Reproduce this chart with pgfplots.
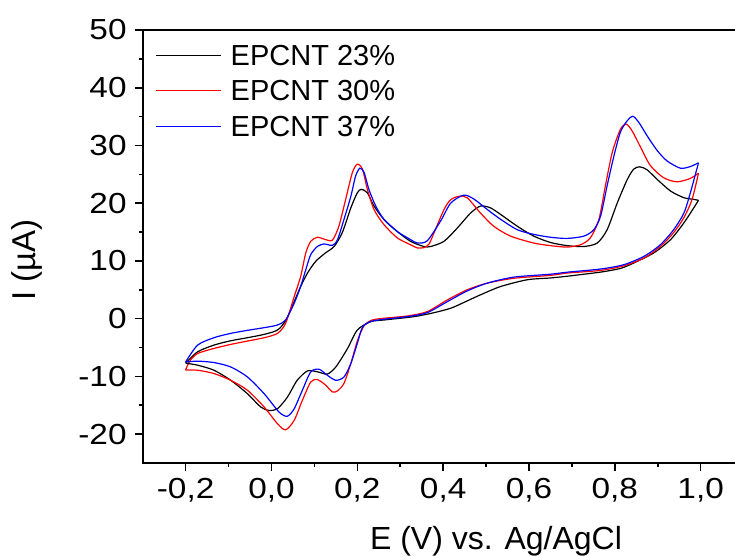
\documentclass[border=0pt]{standalone}
\usepackage{pgfplots}
\pgfplotsset{compat=1.18}
\usepackage{fontspec}
\setmainfont{Liberation Sans}
\begin{document}
\begin{tikzpicture}
\useasboundingbox (0,0) rectangle (367.5pt,-278pt);
\begin{axis}[
  at={(71.35pt,-15pt)}, anchor=north west,
  scale only axis, width=296.15pt, height=216.5pt,
  xmin=-0.3, xmax=1.08, ymin=-25, ymax=50,
  xtick={-0.2,0,0.2,0.4,0.6,0.8,1.0},
  xticklabels={{-0,2},{0,0},{0,2},{0,4},{0,6},{0,8},{1,0}},
  ytick={-20,-10,0,10,20,30,40,50},
  yticklabels={-20,-10,0,10,20,30,40,50},
  minor x tick num=1, minor y tick num=1,
  tick align=outside,
  xtick pos=bottom, ytick pos=left,
  major tick length=4pt, minor tick length=2pt,
  every tick/.style={black, line width=0.8pt},
  axis line style={draw=none},
  ticklabel style={font=\fontsize{14.5}{14.5}\selectfont, xscale=1.15, transform shape},
  xlabel={E (V) vs. Ag/AgCl},
  ylabel={I (µA)},
  x label style={at={([yshift=-43pt]rel axis cs:0.5965,0)}, anchor=base, font=\fontsize{16}{16}\selectfont},
  y label style={at={([xshift=-53.5pt]rel axis cs:0,0.469)}, anchor=base, rotate=0, font=\fontsize{16.5}{16.5}\selectfont},
  legend style={at={(rel axis cs:0,1)}, anchor=north west, xshift=6.15pt, yshift=-5.3pt,
    draw=none, fill=none, inner sep=0pt, row sep=3.55pt, column sep=2.5pt,
    font=\fontsize{14.5}{14.5}\selectfont,
    nodes={inner sep=2pt, text height=10.2pt, text depth=0pt}},
  legend cell align=left,
  legend image code/.code={\draw[#1, line width=0.65pt] (0pt,0pt) -- (32.5pt,0pt);},
  every axis plot/.append style={line width=0.6pt, smooth, tension=0.45, mark=none},
  clip=false,
]
\draw[line width=1pt, line cap=rect] (rel axis cs:1.05,1) -- (rel axis cs:0,1) -- (rel axis cs:0,0) -- (rel axis cs:1.05,0);
% EPCNT 23% forward
\addplot[black] coordinates {(-0.200,-7.7) (-0.172,-5.74) (-0.134,-4.58) (-0.095,-3.83) (-0.056,-3.3) (-0.017,-2.72) (0.014,-1.97) (0.033,-0.35) (0.053,2.96) (0.068,5.57) (0.084,7.9) (0.103,9.92) (0.126,11.4) (0.146,12.5) (0.165,14.9) (0.185,19.2) (0.200,21.8) (0.2095,22.4) (0.2235,21.8) (0.239,19.5) (0.262,17.2) (0.293,15.1) (0.324,13.4) (0.355,12.5) (0.371,12.5) (0.402,13.4) (0.433,15.7) (0.464,18.3) (0.487,19.5) (0.510,19.2) (0.534,18.05) (0.573,16.0) (0.611,14.3) (0.650,13.2) (0.689,12.65) (0.728,12.5) (0.759,13.1) (0.782,15.4) (0.806,20.1) (0.829,24.1) (0.844,25.9) (0.858,26.3) (0.875,25.8) (0.899,24.1) (0.930,22.1) (0.961,20.95) (0.984,20.66) (0.995,20.5)};
\addlegendentry{EPCNT 23\%}
% EPCNT 30% forward
\addplot[red] coordinates {(-0.200,-8.9) (-0.190,-7.3) (-0.172,-6.03) (-0.134,-5.16) (-0.095,-4.46) (-0.056,-3.88) (-0.017,-3.3) (0.014,-2.55) (0.033,-0.8) (0.053,3.83) (0.068,7.3) (0.080,11.4) (0.0915,13.4) (0.107,14.1) (0.126,13.7) (0.142,13.6) (0.157,16.0) (0.173,20.7) (0.1885,25.3) (0.200,26.75) (0.212,25.9) (0.2235,22.4) (0.239,18.9) (0.262,16.3) (0.293,14.0) (0.324,12.8) (0.340,12.25) (0.355,12.3) (0.367,12.9) (0.379,14.9) (0.402,18.9) (0.4175,20.6) (0.437,21.2) (0.456,20.95) (0.487,18.3) (0.518,16.0) (0.557,14.3) (0.611,13.1) (0.650,12.65) (0.689,12.4) (0.720,12.8) (0.743,14.0) (0.763,17.2) (0.778,23.0) (0.794,28.8) (0.813,32.8) (0.8265,33.7) (0.8405,32.5) (0.860,29.7) (0.883,26.5) (0.914,24.4) (0.945,23.7) (0.976,24.3) (0.995,25.2)};
\addlegendentry{EPCNT 30\%}
% EPCNT 37% forward
\addplot[blue] coordinates {(-0.200,-7.5) (-0.172,-4.58) (-0.134,-3.3) (-0.095,-2.55) (-0.056,-2.02) (-0.017,-1.56) (0.014,-1.1) (0.033,-0.23) (0.053,2.68) (0.068,5.57) (0.080,8.48) (0.0915,11.09) (0.107,12.5) (0.1225,12.94) (0.142,12.7) (0.154,13.7) (0.169,17.2) (0.185,21.2) (0.196,24.7) (0.206,26.06) (0.216,25.3) (0.227,22.4) (0.243,19.5) (0.262,17.2) (0.293,15.1) (0.324,13.7) (0.340,13.1) (0.363,13.5) (0.394,16.9) (0.4175,20.0) (0.448,21.4) (0.472,20.7) (0.503,18.9) (0.534,17.2) (0.573,15.4) (0.611,14.6) (0.650,14.1) (0.689,13.9) (0.728,14.3) (0.751,15.4) (0.767,17.8) (0.782,23.0) (0.798,28.2) (0.813,32.3) (0.829,34.3) (0.842,35.05) (0.856,34.0) (0.875,31.7) (0.899,29.1) (0.922,27.3) (0.953,26.06) (0.976,26.35) (0.995,27.0)};
\addlegendentry{EPCNT 37\%}
% reverse scans
\addplot[black, forget plot] coordinates {(0.995,20.5) (0.984,19.2) (0.961,16.6) (0.930,13.7) (0.891,11.4) (0.844,9.64) (0.813,8.7) (0.770,8.1) (0.728,7.7) (0.689,7.35) (0.650,7.05) (0.596,6.74) (0.534,5.57) (0.487,4.13) (0.441,2.56) (0.4175,1.8) (0.379,1.04) (0.332,0.35) (0.262,-0.23) (0.231,-0.52) (0.200,-1.97) (0.177,-5.2) (0.150,-8.36) (0.130,-9.6) (0.107,-9.2) (0.084,-9.05) (0.060,-10.67) (0.037,-13.6) (0.014,-15.6) (-0.0055,-15.9) (-0.025,-15.3) (-0.056,-13.0) (-0.095,-10.67) (-0.134,-8.93) (-0.172,-8.06) (-0.200,-7.7)};
\addplot[red, forget plot] coordinates {(0.995,25.2) (0.980,20.66) (0.961,17.5) (0.937,14.9) (0.906,12.5) (0.868,10.5) (0.821,9.17) (0.767,8.36) (0.689,7.9) (0.650,7.5) (0.565,7.0) (0.503,6.16) (0.456,5.0) (0.410,3.26) (0.363,1.22) (0.317,0.47) (0.262,0.07) (0.235,-0.23) (0.216,-1.2) (0.200,-3.9) (0.185,-7.76) (0.169,-11.2) (0.154,-12.5) (0.142,-12.7) (0.126,-11.5) (0.107,-10.55) (0.0915,-10.97) (0.072,-14.15) (0.053,-17.6) (0.033,-19.25) (0.014,-18.2) (-0.017,-15.3) (-0.056,-12.4) (-0.095,-10.67) (-0.134,-9.5) (-0.172,-8.93) (-0.200,-8.9)};
\addplot[blue, forget plot] coordinates {(0.995,27.0) (0.976,21.8) (0.961,18.3) (0.937,15.4) (0.906,12.8) (0.868,10.8) (0.821,9.35) (0.767,8.6) (0.689,8.05) (0.650,7.7) (0.565,7.2) (0.503,6.16) (0.456,4.8) (0.410,2.96) (0.363,1.04) (0.317,0.35) (0.262,-0.1) (0.231,-0.5) (0.212,-1.5) (0.200,-4.3) (0.185,-7.76) (0.169,-10.1) (0.150,-10.67) (0.130,-9.8) (0.111,-8.76) (0.0915,-9.22) (0.072,-12.4) (0.053,-15.6) (0.037,-16.9) (0.018,-16.2) (-0.017,-13.0) (-0.056,-10.1) (-0.095,-8.36) (-0.134,-7.6) (-0.172,-7.36) (-0.200,-7.5)};
\end{axis}
\end{tikzpicture}
\end{document}
